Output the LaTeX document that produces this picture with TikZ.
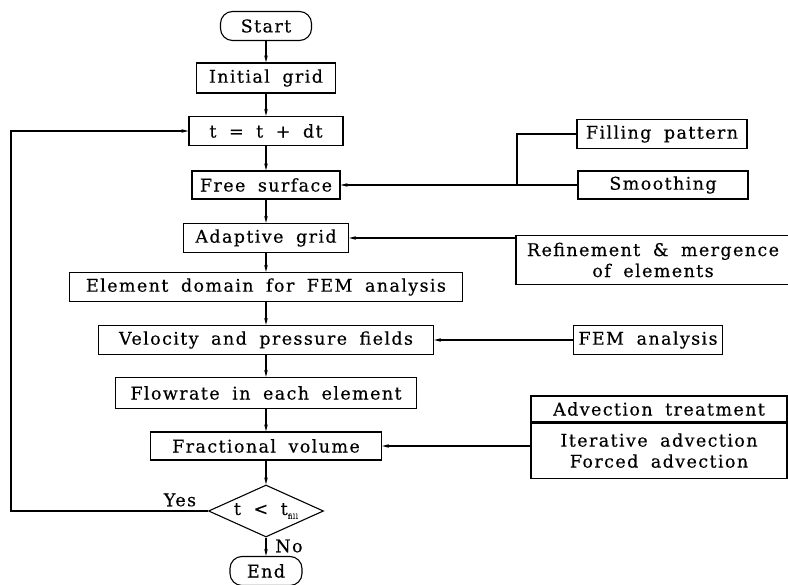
\documentclass[tikz,border=0pt]{standalone}
\usepackage{fontspec}
\newfontfamily\flowfont[LetterSpace=8,WordSpace=1.8,FakeBold=0.4]{DejaVu Serif}
\usetikzlibrary{arrows.meta,shapes.geometric}

\tikzset{
    txt/.style={font=\flowfont\fontsize{17.5}{21}\selectfont},
    box/.style={txt, draw, line width=1.1pt, minimum height=29pt, inner sep=2pt},
    term/.style={box, rounded corners=12pt},
    test/.style={box, diamond, aspect=2.2, inner sep=0pt},
    flow/.style={line width=1.1pt, -{Stealth[length=7pt,width=3.5pt]}},
    link/.style={line width=1.1pt},
}

\begin{document}
\begin{tikzpicture}[x=1pt, y=-1pt]
    \useasboundingbox (0,0) rectangle (788,585);

    % Main column
    \node[term, minimum width=91pt] (start) at (266,26) {Start};
    \node[box, minimum width=139pt, minimum height=30pt] (init) at (266,78) {Initial grid};
    \node[box, minimum width=154pt] (tstep) at (266,131) {t = t + dt};
    \node[box, minimum width=148pt, minimum height=28pt] (free) at (266,185) {Free surface};
    \node[box, minimum width=165pt] (adapt) at (266,238) {Adaptive grid};
    \node[box, minimum width=393pt] (elem) at (266,287) {Element domain for FEM analysis};
    \node[box, minimum width=335pt] (vel) at (266,340) {Velocity and pressure fields};
    \node[box, minimum width=301pt, minimum height=31pt] (flowr) at (266,393) {Flowrate in each element};
    \node[box, minimum width=231pt, minimum height=28pt] (frac) at (266,446) {Fractional volume};
    \node[test, minimum width=115pt, minimum height=52pt] (check) at (266,511)
        {t < t\raisebox{-4pt}{\fontsize{7}{7}\selectfont fill}};
    \node[term, minimum width=72pt] (stop) at (266,571) {End};

    % Inputs on the right
    \node[box, minimum width=170pt] (fillp) at (662,134) {Filling pattern};
    \node[box, minimum width=170pt, minimum height=28pt] (smooth) at (663,185) {Smoothing};
    \node[box, minimum width=274pt, minimum height=49pt, align=center] (refine) at (653,260)
        {Refinement \& mergence\\of elements};
    \node[box, minimum width=149pt] (fem) at (648,340) {FEM analysis};
    \node[box, minimum width=256pt, minimum height=26pt] (advhead) at (659,409) {Advection treatment};
    \node[box, minimum width=256pt, minimum height=55pt, align=center, anchor=north] (advbody) at (advhead.south)
        {Iterative advection\\Forced advection};
    \coordinate (merge) at (517,185);
    \coordinate (back) at (11,511);

    % Arrows down the column
    \draw[flow] (start) -- (init);
    \draw[flow] (init) -- (tstep);
    \draw[flow] (tstep) -- (free);
    \draw[flow] (free) -- (adapt);
    \draw[flow] (adapt) -- (elem);
    \draw[flow] (elem) -- (vel);
    \draw[flow] (vel) -- (flowr);
    \draw[flow] (flowr) -- (frac);
    \draw[flow] (frac) -- (check);
    \draw[flow] (check) -- (stop);

    % Arrows from the inputs
    \draw[link] (fillp.west) -| (merge);
    \draw[flow] (smooth.west |- free) -- (free.east);
    \draw[flow] (refine.west |- adapt) -- (adapt.east);
    \draw[flow] (fem.west |- vel) -- (vel.east);
    \draw[flow] (advbody.west |- frac) -- (frac.east);

    % Loop back
    \draw[flow] (check.west) -- (back) |- (tstep.west);
    \node[txt] (yes) at (180,500) {Yes};
    \node[txt] (no) at (289,546) {No};
\end{tikzpicture}
\end{document}
